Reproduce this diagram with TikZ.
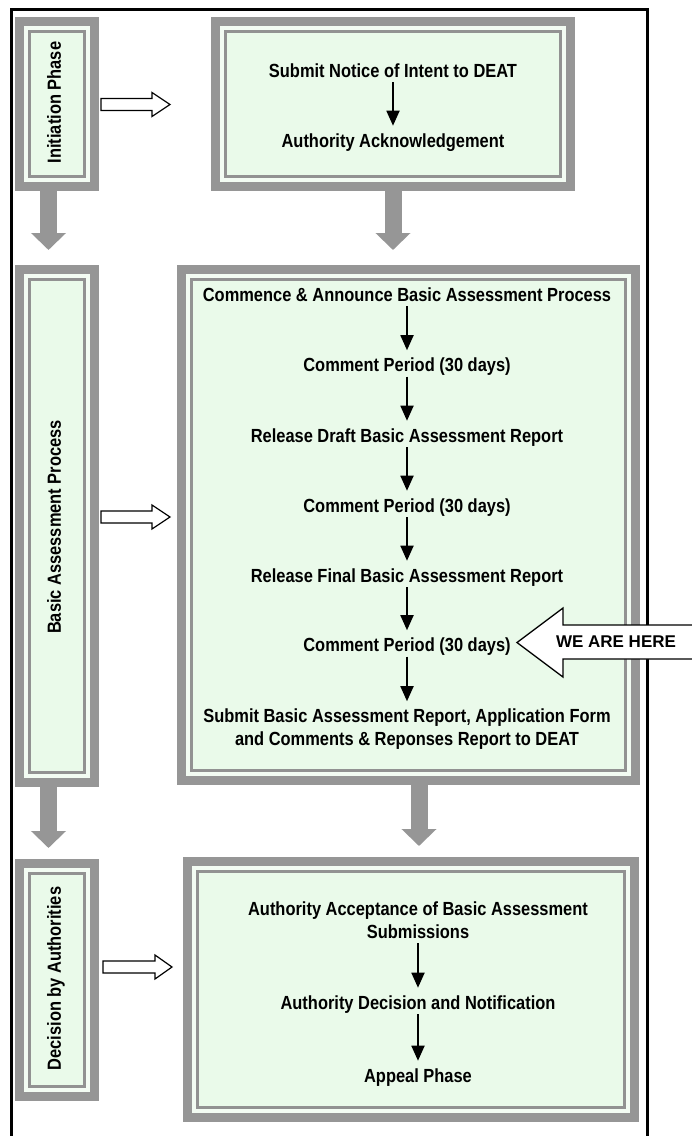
\documentclass[tikz,border=0pt]{standalone}
\usepackage{fontspec}
\setmainfont{Liberation Sans}
\newfontfamily\flowfont[FakeStretch=0.865]{Liberation Sans}
\usetikzlibrary{arrows.meta}

\definecolor{bandgray}{RGB}{150,150,150}
\definecolor{rulegray}{RGB}{146,146,146}
\definecolor{stripc}{RGB}{243,252,243}
\definecolor{mint}{RGB}{234,250,234}

% white arrow with a black outline, pointing right
\newcommand{\hollowright}[4]{% left x, tip x, mid y, head base x
  \draw[hollowline] (#1,#3-6) -- (#4,#3-6) -- (#4,#3-12) -- (#2,#3)
    -- (#4,#3+12) -- (#4,#3+6) -- (#1,#3+6) -- cycle;}

\tikzset{
  panel/.style={rectangle, inner sep=0pt, fill=bandgray, path picture={
    \fill[stripc] ([shift={(9pt,-9pt)}]path picture bounding box.north west)
      rectangle ([shift={(-9pt,9pt)}]path picture bounding box.south east);
    \fill[rulegray] ([shift={(13pt,-13pt)}]path picture bounding box.north west)
      rectangle ([shift={(-13pt,13pt)}]path picture bounding box.south east);
    \fill[mint] ([shift={(16pt,-16pt)}]path picture bounding box.north west)
      rectangle ([shift={(-16pt,16pt)}]path picture bounding box.south east);
  }},
  stepbox/.style={inner sep=0pt, text height=13.6pt, text depth=4pt, anchor=base,
    font=\flowfont\bfseries\fontsize{19pt}{23pt}\selectfont},
  phaselabel/.style={inner sep=0pt, text height=13.6pt, text depth=0pt, rotate=90,
    font=\flowfont\bfseries\fontsize{19pt}{23pt}\selectfont},
  steparrow/.style={line width=1.8pt, -{Triangle[length=15pt,width=13pt]},
    shorten <=1pt, shorten >=7.5pt},
  blockarrow/.style={draw=bandgray, line width=17pt,
    -{Triangle[length=17pt,width=34pt]}},
  hollowline/.style={draw=black, fill=white, line width=1.2pt, line join=miter},
  frameline/.style={draw=black, line width=3pt},
}

\begin{document}
\begin{tikzpicture}[x=1pt,y=-1pt]
\useasboundingbox (0,0) rectangle (692,1136);

% outer frame (open at the foot of the page)
\draw[frameline] (11,1145) -- (11,9) -- (647,9) -- (647,1145);

% panels
\node[panel, minimum width=84pt, minimum height=174pt] (initbox) at (57,104) {};
\node[panel, minimum width=364pt, minimum height=174pt] (noticebox) at (393,104) {};
\node[panel, minimum width=84pt, minimum height=522pt] (basbox) at (57,526) {};
\node[panel, minimum width=463pt, minimum height=520pt] (stepsbox) at (408.5,525) {};
\node[panel, minimum width=84pt, minimum height=242pt] (decbox) at (57,980) {};
\node[panel, minimum width=456pt, minimum height=265pt] (authbox) at (411,989.5) {};

% phase labels
\node[phaselabel] (lab1) at (54,102.5) {Initiation Phase};
\node[phaselabel] (lab2) at (54,527) {Basic Assessment Process};
\node[phaselabel] (lab3) at (54,978.5) {Decision by Authorities};

% initiation steps
\node[stepbox] (n1) at (393,77) {Submit Notice of Intent to DEAT};
\node[stepbox] (n2) at (393,147) {Authority Acknowledgement};
\draw[steparrow] (n1.south) -- (n2.north);

% basic assessment steps
\node[stepbox] (b1) at (407,301) {Commence \& Announce Basic Assessment Process};
\node[stepbox] (b2) at (407,371.5) {Comment Period (30 days)};
\node[stepbox] (b3) at (407,442) {Release Draft Basic Assessment Report};
\node[stepbox] (b4) at (407,512) {Comment Period (30 days)};
\node[stepbox] (b5) at (407,582) {Release Final Basic Assessment Report};
\node[stepbox] (b6) at (407,651.5) {Comment Period (30 days)};
\node[stepbox] (b7) at (407,722.5) {Submit Basic Assessment Report, Application Form};
\node[stepbox] (b7b) at (407,745.5) {and Comments \& Reponses Report to DEAT};
\draw[steparrow] (b1.south) -- (b2.north);
\draw[steparrow] (b2.south) -- (b3.north);
\draw[steparrow] (b3.south) -- (b4.north);
\draw[steparrow] (b4.south) -- (b5.north);
\draw[steparrow] (b5.south) -- (b6.north);
\draw[steparrow] (b6.south) -- (b7.north);

% decision steps
\node[stepbox] (d1) at (418,915) {Authority Acceptance of Basic Assessment};
\node[stepbox] (d1b) at (418,938) {Submissions};
\node[stepbox] (d2) at (418,1009) {Authority Decision and Notification};
\node[stepbox] (d3) at (418,1082) {Appeal Phase};
\draw[steparrow] (d1b.south) -- (d2.north);
\draw[steparrow] (d2.south) -- (d3.north);

% grey flow arrows between the rows
\coordinate (g1) at (48.5,250);
\coordinate (g2) at (393,250);
\coordinate (g3) at (48.5,848);
\coordinate (g4) at (419,846);
\draw[blockarrow] (initbox.south -| g1) -- (g1);
\draw[blockarrow] (noticebox.south -| g2) -- (g2);
\draw[blockarrow] (basbox.south -| g3) -- (g3);
\draw[blockarrow] (stepsbox.south -| g4) -- (g4);

% white arrows from the phase labels to their steps
\hollowright{101}{170}{104.5}{152}
\hollowright{101}{170}{517}{152}
\hollowright{103}{172}{967}{155}

% current position marker
\draw[hollowline, line width=1.3pt] (700,625) -- (563,625) -- (563,608) -- (517,642.5)
  -- (563,677) -- (563,659) -- (700,659);
\node[font=\bfseries\fontsize{17pt}{20pt}\selectfont, inner sep=0pt, anchor=base]
  (here) at (616,647) {WE ARE HERE};
\end{tikzpicture}
\end{document}
